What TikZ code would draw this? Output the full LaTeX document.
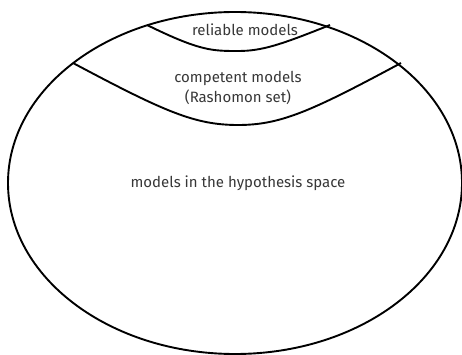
\documentclass[tikz,border=0pt]{standalone}
\usepackage{fontspec}
\setmainfont{Fira Sans}
\usepackage{tikz}
\usetikzlibrary{calc}
\definecolor{labelgray}{RGB}{55,55,55}
\tikzstyle{line} = [draw, line width=1.9pt]
\tikzstyle{label} = [text=labelgray, font=\fontsize{15}{20}\selectfont, align=center]

\begin{document}
\begin{tikzpicture}[x=1pt, y=-1pt]
      \useasboundingbox (0,0) rectangle (462,355);

      % hypothesis space
      \draw[style=line] (235,183) ellipse [x radius=227, y radius=171];

      % boundaries of the subsets
      \draw[style=line] (147,25) .. controls (200,51) and (212,51) .. (238,51)
                        .. controls (262,51) and (280,45) .. (330,25);
      \draw[style=line] (73,63) .. controls (165,112) and (195,125) .. (238,125)
                        .. controls (280,125) and (310,112) .. (401,63);

      \node[style=label] (reliable) at (245,30) {reliable models};
      \node[style=label] (competent) at (238,88) {competent models\\(Rashomon set)};
      \node[style=label] (hypothesis) at (238,183) {models in the hypothesis space};
    \end{tikzpicture}
\end{document}
